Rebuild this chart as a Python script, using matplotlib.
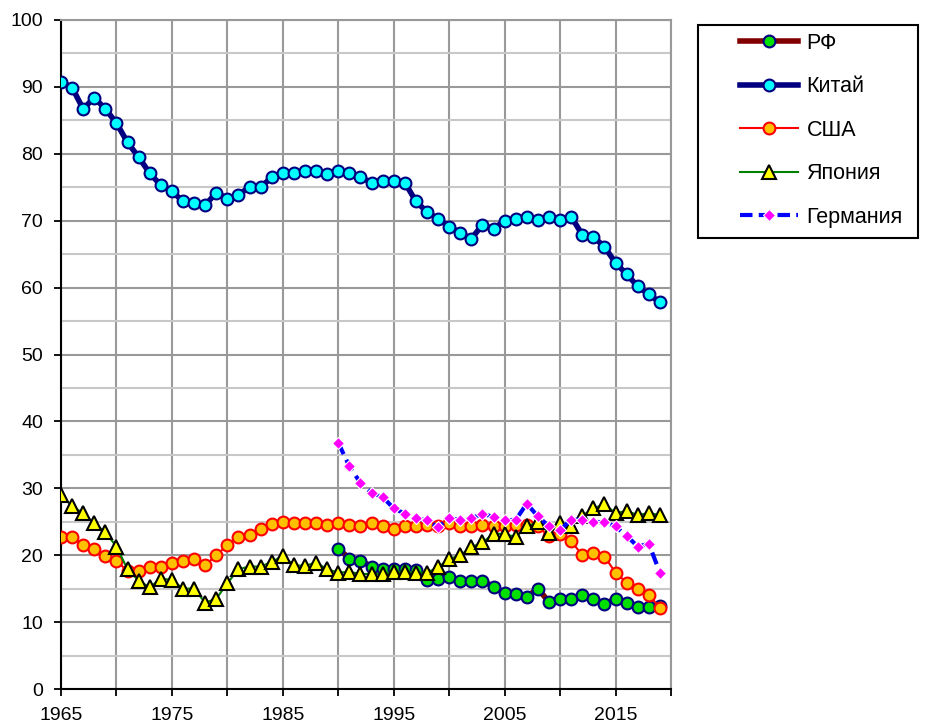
import numpy as np
import matplotlib
matplotlib.use('Agg')
import matplotlib.pyplot as plt
from matplotlib.ticker import MultipleLocator
from matplotlib.patches import Rectangle

plt.rcParams['font.family'] = ['Liberation Sans', 'DejaVu Sans']

years_all = list(range(1965, 2020))
years_new = list(range(1990, 2020))

china = [90.8, 89.9, 86.7, 88.4, 86.7, 84.6, 81.7, 79.5, 77.1, 75.3,
         74.4, 72.9, 72.6, 72.3, 74.2, 73.3, 73.9, 75.0, 75.0, 76.5,
         77.1, 77.1, 77.5, 77.5, 77.0, 77.4, 77.1, 76.5, 75.7, 76.0,
         76.0, 75.7, 72.9, 71.3, 70.3, 69.1, 68.2, 67.3, 69.4, 68.8,
         70.0, 70.3, 70.6, 70.1, 70.6, 70.1, 70.6, 67.9, 67.6, 66.1,
         63.7, 62.0, 60.2, 59.0, 57.8]

usa = [22.7, 22.7, 21.5, 20.9, 19.9, 19.2, 17.6, 17.7, 18.2, 18.2,
       18.9, 19.2, 19.4, 18.5, 20.0, 21.5, 22.7, 23.0, 23.9, 24.6,
       25.0, 24.8, 24.8, 24.8, 24.5, 24.8, 24.5, 24.3, 24.8, 24.3,
       23.9, 24.3, 24.4, 24.5, 24.3, 24.8, 24.4, 24.3, 24.5, 24.3,
       24.3, 24.5, 24.5, 24.3, 22.8, 23.2, 22.1, 20.0, 20.4, 19.8,
       17.4, 15.9, 14.9, 14.1, 12.1]

japan = [29.0, 27.3, 26.3, 24.8, 23.4, 21.3, 17.9, 16.2, 15.2, 16.5,
         16.3, 15.0, 15.0, 12.9, 13.5, 15.8, 17.9, 18.3, 18.3, 19.0,
         19.9, 18.5, 18.4, 18.9, 17.9, 17.4, 17.5, 17.2, 17.2, 17.2,
         17.5, 17.5, 17.4, 17.4, 18.2, 19.4, 20.0, 21.2, 21.9, 23.2,
         23.2, 22.7, 24.3, 24.9, 23.3, 24.8, 24.4, 25.9, 27.0, 27.6,
         26.3, 26.6, 26.0, 26.3, 26.0]

russia = [21.0, 19.5, 19.2, 18.3, 18.0, 18.0, 18.0, 17.8, 16.3, 16.5,
          16.8, 16.2, 16.2, 16.2, 15.3, 14.3, 14.2, 13.8, 15.0, 13.0,
          13.5, 13.5, 14.1, 13.5, 12.7, 13.5, 12.9, 12.3, 12.3, 12.4]

germany = [36.8, 33.3, 30.8, 29.3, 28.7, 27.0, 26.2, 25.5, 25.2, 24.2,
           25.5, 25.3, 25.5, 26.2, 25.7, 25.2, 25.3, 27.7, 25.8, 24.3,
           23.8, 25.3, 25.3, 25.0, 24.9, 24.3, 22.9, 21.3, 21.7, 17.4]

W, H = 929, 725
fig = plt.figure(figsize=(W / 100, H / 100), dpi=100)
ax = fig.add_axes([61 / W, 1 - 689 / H, (671 - 61) / W, (689 - 20) / H])

ax.plot(years_new, russia, '-o', color='#800000', lw=4, ms=8.5,
        mfc='#00e000', mec='#000080', mew=1.5, label='РФ', zorder=3)
ax.plot(years_all, china, '-o', color='#000080', lw=4, ms=8.5,
        mfc='#00ffff', mec='#000080', mew=1.5, label='Китай', zorder=4)
ax.plot(years_all, usa, '-o', color='#ff0000', lw=1.5, ms=8.5,
        mfc='#ffc000', mec='#ff0000', mew=1.5, label='США', zorder=5)
ax.plot(years_all, japan, '-^', color='#008000', lw=1.5, ms=9.5,
        mfc='#ffff00', mec='#000000', mew=1.5, label='Япония', zorder=6)
ax.plot(years_new, germany, '--D', color='#0000ff', lw=3, ms=6,
        mfc='#ff00ff', mec='white', mew=0.8, dashes=(3, 1.5),
        label='Германия', zorder=7)

ax.set_xlim(1965, 2020)
ax.set_ylim(0, 100)
ax.set_xticks(range(1965, 2021, 5))
ax.set_xticklabels([str(y) if (y - 1965) % 10 == 0 and y < 2020 else ''
                    for y in range(1965, 2021, 5)])
ax.yaxis.set_major_locator(MultipleLocator(10))
ax.yaxis.set_minor_locator(MultipleLocator(5))

ax.grid(True, which='major', color='#999999', lw=1.5)
ax.grid(True, which='minor', axis='y', color='#c8c8c8', lw=1.5)
ax.set_axisbelow(True)

for s in ['top', 'right']:
    ax.spines[s].set_color('#999999')
    ax.spines[s].set_linewidth(1.5)
for s in ['left', 'bottom']:
    ax.spines[s].set_color('black')
    ax.spines[s].set_linewidth(1.5)

ax.tick_params(axis='both', which='major', direction='out', length=5,
               width=1.3, labelsize=14, color='black')
ax.tick_params(axis='y', which='minor', length=0)
ax.tick_params(axis='x', pad=8)
ax.tick_params(axis='y', pad=8)

# legend frame drawn separately to get Excel-like wide left margin
fig.patches.append(Rectangle((698 / W, 1 - 238 / H), (918 - 698) / W,
                             (238 - 25) / H, transform=fig.transFigure,
                             fill=False, ec='black', lw=1.5))
leg = fig.legend(loc='upper left', bbox_to_anchor=(740 / W, 1 - 33 / H),
                 fontsize=15.5, frameon=False, handlelength=2.7,
                 labelspacing=1.04, borderpad=0, handletextpad=0.4,
                 borderaxespad=0)

fig.savefig('out.png', dpi=100)
